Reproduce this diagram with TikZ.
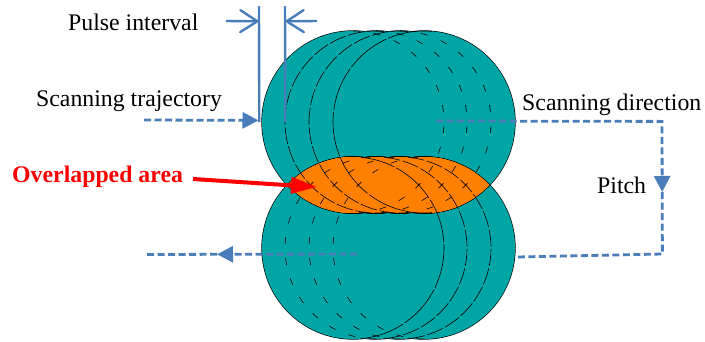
\documentclass[tikz,border=0pt]{standalone}
\usepackage{fontspec}
\setmainfont{Liberation Serif}
\usetikzlibrary{arrows.meta}
\definecolor{tealfill}{HTML}{00A5A6}
\definecolor{orangefill}{HTML}{FF8000}
\definecolor{flowblue}{HTML}{4A7EBB}
\definecolor{redarrow}{HTML}{FF0000}
\tikzset{
  label text/.style={anchor=base west,inner sep=0pt,font=\fontsize{23.8}{28}\selectfont,text=black},
  flow/.style={draw=flowblue,line width=2.8pt,dash pattern=on 7pt off 3.5pt},
  solidblue/.style={draw=flowblue,line width=2.4pt},
  headtip/.style={-{Triangle[length=16pt,width=16pt,fill=flowblue]}},
  barbtip/.style={-{Straight Barb[length=17pt,width=22pt,round]}},
  arcsolid/.style={black,line width=0.6pt,dash pattern=on 45pt off 2pt},
  arclong/.style={black,line width=0.6pt,dash pattern=on 17pt off 2.5pt},
  arcsparse/.style={black,line width=0.6pt,dash pattern=on 7pt off 14pt},
}
\begin{document}
\begin{tikzpicture}[x=1pt,y=-1pt]
\path[use as bounding box,fill=white] (0,0) rectangle (705,341);
\def\rad{91pt}
\def\ya{122}\def\yb{248}
% outer outline, then teal interior
\foreach \c in {353,376,400,424}{
  \draw[black,line width=1.3pt] (\c,\ya) circle[radius=\rad];
  \draw[black,line width=1.3pt] (\c,\yb) circle[radius=\rad];
}
\foreach \c in {353,376,400,424}{
  \fill[tealfill] (\c,\ya) circle[radius=\rad];
  \fill[tealfill] (\c,\yb) circle[radius=\rad];
}
% overlapped lens: outline then fill
\foreach \a in {353,376,400,424}{\foreach \b in {353,376,400,424}{
  \begin{scope}\clip (\a,\ya) circle[radius=\rad];
    \draw[black,line width=1.3pt] (\b,\yb) circle[radius=\rad];
  \end{scope}
  \begin{scope}\clip (\b,\yb) circle[radius=\rad];
    \draw[black,line width=1.3pt] (\a,\ya) circle[radius=\rad];
  \end{scope}
}}
\foreach \a in {353,376,400,424}{\foreach \b in {353,376,400,424}{
  \begin{scope}\clip (\a,\ya) circle[radius=\rad];
    \fill[orangefill] (\b,\yb) circle[radius=\rad];
  \end{scope}
}}
% inner pulse arcs, upper row
\draw[arcsparse] (353,\ya) ++(90:\rad) arc[start angle=90,end angle=-90,radius=\rad];
\draw[arcsparse] (376,\ya) ++(90:\rad) arc[start angle=90,end angle=-90,radius=\rad];
\draw[arcsparse] (400,\ya) ++(90:\rad) arc[start angle=90,end angle=-90,radius=\rad];
\draw[arclong] (376,\ya) ++(85:\rad) arc[start angle=85,end angle=275,radius=\rad];
\draw[arclong] (400,\ya) ++(85:\rad) arc[start angle=85,end angle=275,radius=\rad];
\draw[arcsolid] (424,\ya) ++(85:\rad) arc[start angle=85,end angle=275,radius=\rad];
% inner pulse arcs, lower row
\draw[arcsolid] (353,\yb) ++(-85:\rad) arc[start angle=-85,end angle=85,radius=\rad];
\draw[arclong] (376,\yb) ++(-85:\rad) arc[start angle=-85,end angle=85,radius=\rad];
\draw[arclong] (400,\yb) ++(-85:\rad) arc[start angle=-85,end angle=85,radius=\rad];
\draw[arcsparse] (376,\yb) ++(270:\rad) arc[start angle=270,end angle=90,radius=\rad];
\draw[arcsparse] (400,\yb) ++(270:\rad) arc[start angle=270,end angle=90,radius=\rad];
\draw[arcsparse] (424,\yb) ++(270:\rad) arc[start angle=270,end angle=90,radius=\rad];
% labels
\node[label text] (pulse) at (68,30) {Pulse interval};
\node[label text] (traj) at (36,106) {Scanning trajectory};
\node[label text] (dir) at (522,110) {Scanning direction};
\node[label text] (pitch) at (597,193) {Pitch};
\node[label text,font=\fontsize{23.8}{28}\selectfont\bfseries,text=redarrow] (over) at (12,182) {Overlapped area};
% coordinates
\coordinate (pl1) at (259,6);  \coordinate (pl2) at (259.3,122);
\coordinate (pr1) at (285,6);  \coordinate (pr2) at (285.3,122);
\coordinate (bl) at (226,21);  \coordinate (blend) at (258.5,21.3);
\coordinate (br) at (317,21);  \coordinate (brend) at (285.5,21.3);
\coordinate (ts) at (144,120); \coordinate (te) at (258.5,120.4);
\coordinate (ds) at (436,121); \coordinate (dc) at (662,121.4);
\coordinate (dm) at (662.2,192); \coordinate (dd) at (662.4,254);
\coordinate (de) at (517,257);
\coordinate (rs) at (357,254); \coordinate (rm) at (217,254.3);
\coordinate (re) at (147,254.5);
\coordinate (ra) at (193,179); \coordinate (rb) at (317,187);
% connectors
\draw[solidblue] (pl1) -- (pl2);
\draw[solidblue] (pr1) -- (pr2);
\draw[solidblue,barbtip] (bl) -- (blend);
\draw[solidblue,barbtip] (br) -- (brend);
\draw[flow,headtip] (ts) -- (te);
\draw[flow,headtip] (ds) -- (dc) -- (dm);
\draw[flow] (dm) -- (dd) -- (de);
\draw[flow,headtip] (rs) -- (rm);
\draw[flow] (rm) -- (re);
\draw[redarrow,line width=4pt,-{Triangle[length=26pt,width=16pt]}] (ra) -- (rb);
\end{tikzpicture}
\end{document}
